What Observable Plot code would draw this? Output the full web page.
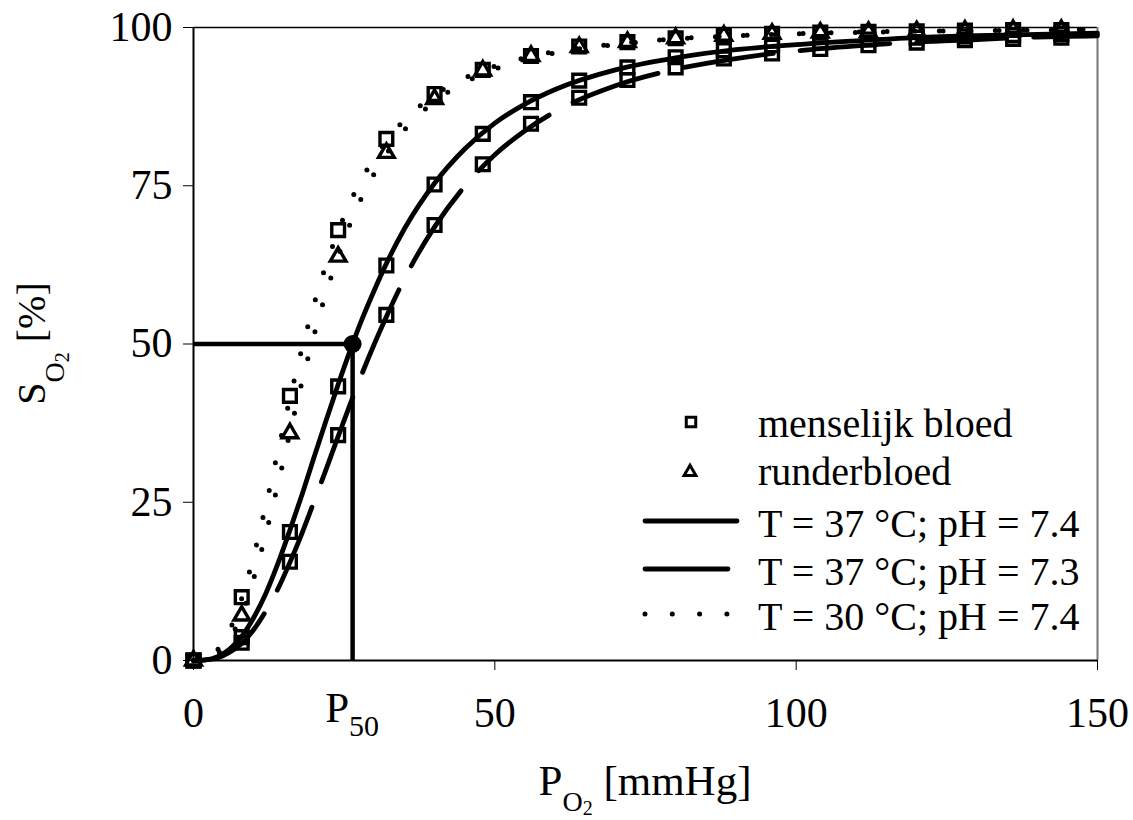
<!DOCTYPE html>
<html>
<head>
<meta charset="utf-8">
<script src="https://cdn.jsdelivr.net/npm/d3@7"></script>
<script src="https://cdn.jsdelivr.net/npm/@observablehq/plot@0.6"></script>
<style>
  html, body { margin: 0; padding: 0; background: #fff; }
  #wrap { position: relative; width: 1133px; height: 820px; overflow: hidden; }
  #legend { position: absolute; left: 0; top: 0; pointer-events: none; }
</style>
</head>
<body>
<div id="wrap"></div>
<script>
// ---------- data ----------
const pointsP = [0, 8, 16, 24, 32, 40, 48, 56, 64, 72, 80, 88, 96, 104, 112, 120, 128, 136, 144];
const humanPH74 = [0, 3.7, 20.3, 43.3, 62.4, 75.2, 83.2, 88.2, 91.6, 93.7, 95.3, 96.4, 97.2, 97.7, 98.1, 98.4, 98.6, 98.8, 99.0];
const humanPH73 = [0, 2.8, 15.6, 35.6, 54.6, 68.8, 78.4, 84.8, 88.9, 91.7, 93.7, 95.1, 95.9, 96.6, 97.2, 97.6, 98.0, 98.2, 98.4];
const human30   = [0, 10.0, 41.8, 68.0, 82.4, 89.5, 93.3, 95.5, 97.0, 97.7, 98.3, 98.7, 99.0, 99.2, 99.3, 99.4, 99.5, 99.6, 99.6];
const bovine30  = [0, 7.1, 35.9, 63.8, 80.2, 88.7, 93.2, 95.5, 96.9, 97.7, 98.3, 98.7, 99.0, 99.2, 99.3, 99.4, 99.5, 99.6, 99.6];

const curveP        = [0, 2, 4, 6, 8, 10, 12, 14, 16, 18, 20, 22, 24, 26, 28, 30, 32, 35, 40, 45, 50, 55, 60, 70, 80, 90, 100, 110, 120, 130, 140, 150];
const curvePH74     = [0, 0.1, 0.6, 1.8, 3.8, 6.8, 10.6, 15.3, 20.6, 26.2, 32.1, 37.9, 43.6, 49.0, 54.0, 58.5, 62.7, 68.2, 75.4, 80.8, 84.9, 87.9, 90.2, 93.3, 95.2, 96.5, 97.3, 97.9, 98.4, 98.7, 98.9, 99.1];
const curvePH73     = [0, 0.1, 0.4, 1.3, 2.7, 4.9, 7.8, 11.3, 15.5, 20.1, 25.1, 30.2, 35.4, 40.5, 45.4, 50.0, 54.3, 60.3, 68.5, 74.9, 79.9, 83.7, 86.7, 90.8, 93.4, 95.1, 96.3, 97.1, 97.7, 98.1, 98.5, 98.7];
const curveHuman30  = [0, 0.3, 1.7, 4.8, 9.8, 16.6, 24.5, 33.0, 41.4, 49.3, 56.3, 62.5, 67.8, 72.4, 76.2, 79.4, 82.1, 85.4, 89.3, 92.0, 93.9, 95.2, 96.2, 97.4, 98.2, 98.7, 99.0, 99.2, 99.4, 99.5, 99.6, 99.7];
const curveBovine30 = [0, 0.2, 1.1, 3.4, 7.3, 13.0, 20.0, 27.8, 36.0, 44.0, 51.4, 58.1, 63.8, 69.0, 73.3, 76.9, 80.0, 83.8, 88.3, 91.3, 93.4, 94.9, 96.0, 97.3, 98.2, 98.7, 99.0, 99.3, 99.4, 99.5, 99.6, 99.7];

const p50 = 26.4;
const p50Sat = 50;
const xTicks = [0, 50, 100, 150];
const yTicks = [0, 25, 50, 75, 100];
const legendLabels = ["menselijk bloed", "runderbloed", "T = 37 °C; pH = 7.4", "T = 37 °C; pH = 7.3", "T = 30 °C; pH = 7.4"];

// ---------- styles ----------
const FONT = '"Liberation Serif", "Times New Roman", Times, serif';
const LW = 4.8;
const DASH = "90,27";
const DOTS = "0,28";

const plot = Plot.plot({
  width: 1133,
  height: 820,
  marginLeft: 193,
  marginRight: 36,
  marginTop: 27,
  marginBottom: 160,
  style: { fontFamily: FONT, fontSize: "42px", background: "#fff", color: "#000", overflow: "visible" },
  x: { domain: [0, 150], ticks: xTicks, tickSize: 10, tickPadding: 27, label: null },
  y: { domain: [0, 100], ticks: yTicks, tickSize: 10, tickPadding: 11, label: null },
  marks: [
    // frame
    Plot.ruleY([100], { stroke: "#000", strokeWidth: 1.5 }),
    Plot.ruleX([150], { stroke: "#777", strokeWidth: 2 }),
    Plot.ruleX([0], { stroke: "#000", strokeWidth: 2 }),
    Plot.ruleY([0], { stroke: "#000", strokeWidth: 2 }),
    // P50 guide lines
    Plot.ruleY([p50Sat], { x1: 0, x2: p50, stroke: "#000", strokeWidth: 4.5 }),
    Plot.ruleX([p50], { y1: 0, y2: p50Sat, stroke: "#000", strokeWidth: 4.5 }),
    // model curves
    Plot.line(curveP, { x: curveP, y: curvePH74, curve: "monotone-x", stroke: "#000", strokeWidth: LW }),
    Plot.line(curveP, { x: curveP, y: curvePH73, curve: "monotone-x", stroke: "#000", strokeWidth: LW, strokeDasharray: DASH, strokeLinecap: "round" }),
    Plot.line(curveP, { x: curveP, y: curveHuman30, curve: "monotone-x", stroke: "#000", strokeWidth: 5, strokeDasharray: DOTS, strokeLinecap: "round" }),
    Plot.line(curveP, { x: curveP, y: curveBovine30, curve: "monotone-x", stroke: "#000", strokeWidth: 5, strokeDasharray: DOTS, strokeLinecap: "round" }),
    // measurements
    Plot.dot(pointsP, { x: pointsP, y: humanPH74, symbol: "square", r: 7.2, stroke: "#000", strokeWidth: 3.4, fill: "none" }),
    Plot.dot(pointsP, { x: pointsP, y: humanPH73, symbol: "square", r: 7.2, stroke: "#000", strokeWidth: 3.4, fill: "none" }),
    Plot.dot(pointsP, { x: pointsP, y: human30, symbol: "square", r: 7.2, stroke: "#000", strokeWidth: 3.4, fill: "none" }),
    Plot.dot(pointsP, { x: pointsP, y: bovine30, symbol: "triangle", r: 5.8, stroke: "#000", strokeWidth: 3.4, fill: "none" }),
    // P50 point
    Plot.dot([p50], { x: [p50], y: [p50Sat], r: 9, fill: "#000", stroke: "none" })
  ]
});

document.getElementById("wrap").appendChild(plot);

// ---------- axis titles and P50 tick label ----------
const xs = plot.scale("x"), ys = plot.scale("y");
const svg = d3.select(plot);
const g = svg.append("g").attr("font-family", FONT).attr("fill", "#000");
const xBase = ys.apply(0);
const xMid = (xs.apply(0) + xs.apply(150)) / 2;
const yMid = (ys.apply(0) + ys.apply(100)) / 2;

const pl = g.append("text").attr("x", xs.apply(p50)).attr("y", xBase + 62)
  .attr("text-anchor", "middle").attr("font-size", 43);
pl.append("tspan").text("P");
pl.append("tspan").attr("font-size", 30).attr("dy", 14).text("50");

const xt = g.append("text").attr("x", xMid).attr("y", xBase + 135)
  .attr("text-anchor", "middle").attr("font-size", 43);
xt.append("tspan").text("P");
xt.append("tspan").attr("font-size", 28).attr("dy", 16).text("O");
xt.append("tspan").attr("font-size", 20).attr("dy", 4).text("2");
xt.append("tspan").attr("font-size", 43).attr("dy", -20).text(" [mmHg]");

const yt = g.append("text").attr("transform", `translate(45,${yMid}) rotate(-90)`)
  .attr("text-anchor", "middle").attr("font-size", 40);
yt.append("tspan").text("S");
yt.append("tspan").attr("font-size", 28).attr("dy", 19).text("O");
yt.append("tspan").attr("font-size", 20).attr("dy", 5).text("2");
yt.append("tspan").attr("font-size", 40).attr("dy", -24).text(" [%]");

// ---------- legend (overlay) ----------
const lg = d3.select("#wrap").append("svg").attr("id", "legend")
  .attr("width", 1133).attr("height", 820)
  .attr("font-family", FONT).attr("font-size", 40);
const baselines = [437, 485, 537, 585, 630];
const textX = 758, lineX0 = 645;
legendLabels.forEach((label, i) => {
  const b = baselines[i];
  lg.append("text").attr("x", textX).attr("y", b).attr("fill", "#000").text(label);
  if (i === 0) {
    lg.append("path").attr("d", d3.symbol(d3.symbolSquare, 90)())
      .attr("transform", `translate(691,${b - 15})`)
      .attr("fill", "none").attr("stroke", "#000").attr("stroke-width", 3);
  } else if (i === 1) {
    lg.append("path").attr("d", d3.symbol(d3.symbolTriangle, 60)())
      .attr("transform", `translate(690,${b - 13})`)
      .attr("fill", "none").attr("stroke", "#000").attr("stroke-width", 3);
  } else {
    const len = i === 2 ? 92 : i === 3 ? 83 : 82;
    const ln = lg.append("line").attr("x1", lineX0).attr("x2", lineX0 + len)
      .attr("y1", b - 16).attr("y2", b - 16)
      .attr("stroke", "#000").attr("stroke-linecap", "round");
    if (i === 4) ln.attr("stroke-width", 5).attr("stroke-dasharray", "0,27.3");
    else ln.attr("stroke-width", LW);
  }
});
</script>
</body>
</html>
